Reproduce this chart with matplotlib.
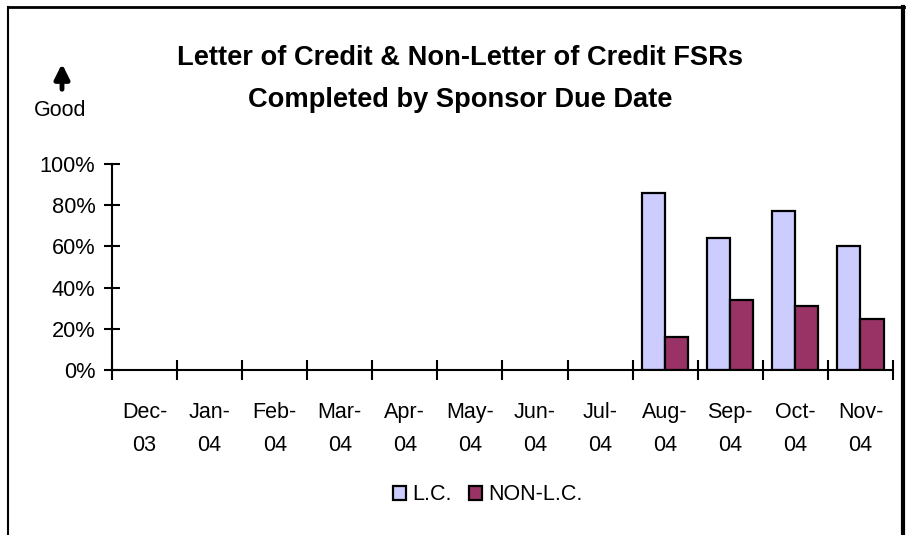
import numpy as np
import matplotlib.pyplot as plt
from matplotlib.lines import Line2D

plt.rcParams['font.family'] = ['Liberation Sans', 'DejaVu Sans']

# data (blank months have no bars)
months = ['Dec-\n03', 'Jan-\n04', 'Feb-\n04', 'Mar-\n04', 'Apr-\n04', 'May-\n04',
          'Jun-\n04', 'Jul-\n04', 'Aug-\n04', 'Sep-\n04', 'Oct-\n04', 'Nov-\n04']
lc = [np.nan] * 8 + [0.86, 0.64, 0.77, 0.60]
non_lc = [np.nan] * 8 + [0.16, 0.34, 0.31, 0.25]

fig = plt.figure(figsize=(9.06, 5.35), dpi=100)
ax = fig.add_axes([112 / 906, 1 - 370 / 535, 781 / 906, 206 / 535])

x = np.arange(len(months))
w = 0.355
ax.bar(x - w / 2, lc, w, color='#CCCCFF', edgecolor='black', linewidth=1.6, label='L.C.')
ax.bar(x + w / 2, non_lc, w, color='#993366', edgecolor='black', linewidth=1.6, label='NON-L.C.')

ax.set_xlim(-0.5, len(months) - 0.5)
ax.set_ylim(0, 1)
ax.set_yticks(np.arange(0, 1.01, 0.2))
ax.set_yticklabels([f'{int(round(v * 100))}%' for v in np.arange(0, 1.01, 0.2)], fontsize=15.7)
ax.set_xticks(np.arange(-0.5, len(months)), minor=False)
ax.set_xticklabels([])
ax.set_xticks(x, minor=True)
ax.set_xticklabels(months, minor=True, fontsize=15.5, linespacing=1.75)
ax.tick_params(axis='x', which='major', direction='inout', length=14, width=1.5)
ax.tick_params(axis='x', which='minor', length=0, pad=23)
ax.tick_params(axis='y', direction='inout', length=12, width=1.5, pad=6)
for s in ['top', 'right']:
    ax.spines[s].set_visible(False)
for s in ['left', 'bottom']:
    ax.spines[s].set_linewidth(1.5)

fig.text(460 / 906, 1 - 58 / 535, 'Letter of Credit & Non-Letter of Credit FSRs',
         ha='center', va='center', fontsize=19.6, fontweight='bold')
fig.text(460 / 906, 1 - 100 / 535, 'Completed by Sponsor Due Date',
         ha='center', va='center', fontsize=19.6, fontweight='bold')

fig.text(60 / 906, 1 - 110 / 535, 'Good', ha='center', va='center', fontsize=15.5)
ax.annotate('', xy=(62 / 906, 1 - 61 / 535), xytext=(62 / 906, 1 - 92 / 535),
            xycoords='figure fraction', textcoords='figure fraction',
            arrowprops=dict(arrowstyle='-|>', color='black', lw=3.5, mutation_scale=22))

ax.legend(loc='center', bbox_to_anchor=(488 / 906, 1 - 495 / 535),
          bbox_transform=fig.transFigure, ncol=2, frameon=False, fontsize=15.5,
          handlelength=0.6, handleheight=0.6, handletextpad=0.3, columnspacing=0.8)

# chart border
fig.add_artist(Line2D([8 / 906, 904 / 906], [1 - 7 / 535, 1 - 7 / 535], color='black', lw=2))
fig.add_artist(Line2D([8 / 906, 8 / 906], [0, 1 - 7 / 535], color='black', lw=1.5))
fig.add_artist(Line2D([903 / 906, 903 / 906], [0, 1 - 7 / 535], color='black', lw=3))

fig.savefig('out.png', dpi=100)
